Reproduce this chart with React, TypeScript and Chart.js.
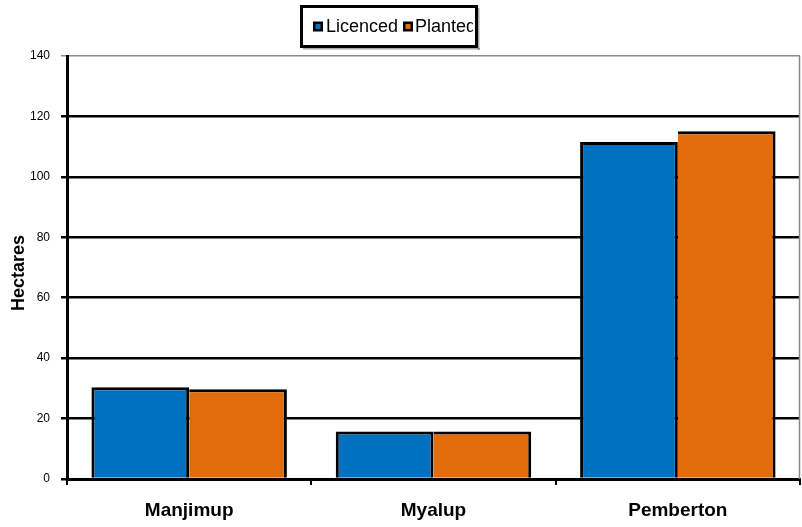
import React, { useEffect, useRef } from "react";
import { Chart, registerables } from "chart.js";

Chart.register(...registerables);

const categories = ["Manjimup", "Myalup", "Pemberton"];
const licenced = [30.4, 15.7, 111.5];
const planted = [29.7, 15.7, 115.1];
const seriesNames = ["Licenced", "Planted"];
const seriesColors = ["#0070C0", "#E36C0A"];
const yTitle = "Hectares";

const FONT = "'Liberation Sans', Arial, sans-serif";

// Framed legend, y-axis title and right border, painted on top of the chart.
const decorPlugin = {
  id: "decor",
  afterDraw(chart: any) {
    const { ctx, chartArea } = chart;
    ctx.save();

    // right border of the plot
    ctx.strokeStyle = "#8a8a8a";
    ctx.lineWidth = 1.5;
    ctx.beginPath();
    ctx.moveTo(chartArea.right - 0.5, chartArea.top);
    ctx.lineTo(chartArea.right - 0.5, chartArea.bottom);
    ctx.stroke();

    // y-axis title
    ctx.save();
    ctx.translate(19, 273);
    ctx.rotate(-Math.PI / 2);
    ctx.fillStyle = "#000";
    ctx.font = `bold 18px ${FONT}`;
    ctx.textAlign = "center";
    ctx.textBaseline = "middle";
    ctx.fillText(yTitle, 0, 0);
    ctx.restore();

    // legend frame
    const bx = 300, by = 5, bw = 178, bh = 43;
    ctx.fillStyle = "#fff";
    ctx.fillRect(bx, by, bw, bh);
    ctx.strokeStyle = "#000";
    ctx.lineWidth = 3;
    ctx.strokeRect(bx + 1.5, by + 1.5, bw - 3, bh - 3);
    // slight drop shadow on bottom and right
    ctx.fillStyle = "rgba(0,0,0,0.35)";
    ctx.fillRect(bx + 3, by + bh, bw - 1, 1.5);
    ctx.fillRect(bx + bw, by + 3, 1.5, bh - 1);

    ctx.save();
    ctx.beginPath();
    ctx.rect(bx + 3, by + 3, bw - 8, bh - 6);
    ctx.clip();
    const cy = by + bh / 2;
    const items = [
      { x: 313, tx: 326 },
      { x: 403, tx: 415 },
    ];
    ctx.font = `18px ${FONT}`;
    ctx.textBaseline = "middle";
    ctx.textAlign = "left";
    items.forEach((it, i) => {
      ctx.fillStyle = "#000";
      ctx.fillRect(it.x, cy - 5, 10, 10);
      ctx.fillStyle = seriesColors[i];
      ctx.fillRect(it.x + 2.5, cy - 2.5, 5, 5);
      ctx.fillStyle = "#000";
      ctx.fillText(seriesNames[i], it.tx, cy + 1);
    });
    ctx.restore();

    ctx.restore();
  },
};

export default function App() {
  const ref = useRef<HTMLCanvasElement | null>(null);

  useEffect(() => {
    if (!ref.current) return;
    const chart = new Chart(ref.current, {
      type: "bar",
      data: {
        labels: categories,
        datasets: [
          {
            label: seriesNames[0],
            data: licenced,
            backgroundColor: seriesColors[0],
            borderColor: "#000",
            borderWidth: { top: 3, left: 3, right: 3, bottom: 0 } as any,
            borderSkipped: false,
            categoryPercentage: 0.8,
            barPercentage: 1.0,
          },
          {
            label: seriesNames[1],
            data: planted,
            backgroundColor: seriesColors[1],
            borderColor: "#000",
            borderWidth: { top: 3, left: 0, right: 3, bottom: 0 } as any,
            borderSkipped: false,
            categoryPercentage: 0.8,
            barPercentage: 1.0,
          },
        ],
      },
      options: {
        responsive: false,
        animation: false,
        layout: { padding: { top: 56, right: 2, left: 0, bottom: 0 } },
        plugins: {
          legend: { display: false },
          tooltip: { enabled: false },
        },
        scales: {
          x: {
            offset: true,
            afterFit: (s: any) => {
              s.height = 48;
            },
            grid: {
              offset: true,
              drawOnChartArea: false,
              drawTicks: true,
              tickLength: 6,
              color: "#000",
              lineWidth: 2,
            },
            border: { display: true, color: "#000", width: 3 },
            ticks: {
              color: "#000",
              padding: 14,
              font: { family: FONT, size: 19, weight: "bold" },
            },
          },
          y: {
            min: 0,
            max: 140,
            afterFit: (s: any) => {
              s.width = 67;
            },
            grid: {
              color: (c: any) => (c.tick && c.tick.value === 140 ? "#8a8a8a" : "#000"),
              lineWidth: (c: any) => (c.tick && c.tick.value === 140 ? 1.5 : 2.5),
              tickLength: 6,
              drawTicks: true,
            },
            border: { display: true, color: "#000", width: 3 },
            ticks: {
              stepSize: 20,
              color: "#000",
              padding: 11,
              font: { family: FONT, size: 12 },
            },
          },
        },
      },
      plugins: [decorPlugin],
    });
    return () => chart.destroy();
  }, []);

  return (
    <div style={{ position: "absolute", left: 0, top: 0, width: 802, height: 527, background: "#fff" }}>
      <canvas ref={ref} width={802} height={527} />
    </div>
  );
}
